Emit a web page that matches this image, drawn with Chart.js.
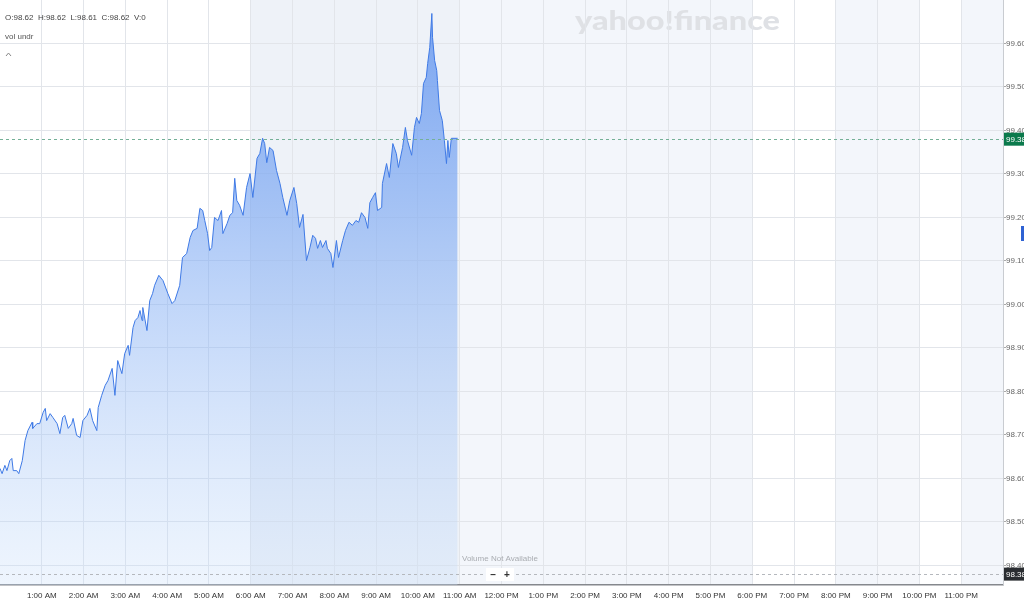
<!DOCTYPE html>
<html>
<head>
<meta charset="utf-8">
<script src="https://cdn.jsdelivr.net/npm/chart.js@4.4.1/dist/chart.umd.min.js"></script>
<style>
  html, body { margin: 0; padding: 0; background: #fff; }
  #wrap { width: 1024px; height: 606px; position: relative; }
</style>
</head>
<body>
<div id="wrap"><canvas id="priceChart"></canvas></div>
<script>
// minutes since midnight
const minutes = [0, 3, 7, 10, 14, 17, 19, 24, 27, 32, 36, 40, 46, 47, 53, 57, 62, 65, 67, 72,
    76, 82, 86, 90, 93, 98, 103, 105, 110, 115, 119, 125, 129, 133, 139, 141, 146, 151, 155, 161,
    165, 169, 175, 179, 184, 186, 191, 194, 198, 201, 204, 205, 211, 215, 219, 222, 228, 234, 241, 247,
    251, 258, 262, 268, 273, 277, 283, 287, 291, 294, 298, 301, 304, 308, 313, 318, 320, 326, 330, 334,
    337, 340, 344, 349, 354, 359, 363, 369, 373, 377, 380, 383, 387, 392, 397, 402, 406, 412, 416, 422,
    426, 430, 435, 440, 445, 449, 453, 456, 460, 463, 468, 470, 475, 478, 483, 486, 492, 496, 501, 506,
    511, 515, 519, 524, 528, 531, 535, 539, 542, 548, 549, 555, 559, 564, 569, 572, 578, 582, 585, 591,
    595, 598, 602, 605, 608, 612, 614, 617, 620, 621, 624, 627, 628, 631, 635, 638, 641, 643, 645, 648, 657];

const prices = [98.623, 98.611, 98.630, 98.618, 98.641, 98.646, 98.618, 98.618, 98.611, 98.641,
    98.687, 98.710, 98.729, 98.715, 98.726, 98.726, 98.752, 98.761, 98.733, 98.749,
    98.740, 98.726, 98.703, 98.740, 98.745, 98.715, 98.726, 98.738, 98.699, 98.694,
    98.733, 98.745, 98.761, 98.733, 98.710, 98.763, 98.791, 98.814, 98.825, 98.853,
    98.791, 98.871, 98.841, 98.887, 98.906, 98.883, 98.947, 98.963, 98.970, 98.986,
    98.963, 98.993, 98.940, 99.009, 99.025, 99.044, 99.067, 99.055, 99.025, 99.002,
    99.009, 99.044, 99.108, 99.117, 99.154, 99.170, 99.175, 99.221, 99.216, 99.193,
    99.163, 99.124, 99.131, 99.200, 99.193, 99.216, 99.163, 99.186, 99.205, 99.211,
    99.290, 99.239, 99.228, 99.205, 99.269, 99.301, 99.246, 99.336, 99.347, 99.382,
    99.370, 99.326, 99.361, 99.354, 99.308, 99.278, 99.246, 99.205, 99.239, 99.269,
    99.232, 99.177, 99.207, 99.101, 99.131, 99.159, 99.152, 99.129, 99.147, 99.131,
    99.147, 99.129, 99.117, 99.085, 99.147, 99.108, 99.147, 99.170, 99.189, 99.182,
    99.193, 99.189, 99.211, 99.200, 99.175, 99.234, 99.246, 99.257, 99.216, 99.223,
    99.278, 99.324, 99.292, 99.370, 99.347, 99.315, 99.361, 99.407, 99.377, 99.343,
    99.407, 99.430, 99.416, 99.439, 99.508, 99.522, 99.554, 99.591, 99.669, 99.614,
    99.561, 99.538, 99.515, 99.446, 99.423, 99.377, 99.324, 99.377, 99.338, 99.382, 99.382];

const yTicks = [99.6, 99.5, 99.4, 99.3, 99.2, 99.1, 99.0, 98.9, 98.8, 98.7, 98.6, 98.5, 98.4];
const hourLabels = ["1:00 AM", "2:00 AM", "3:00 AM", "4:00 AM", "5:00 AM", "6:00 AM", "7:00 AM",
    "8:00 AM", "9:00 AM", "10:00 AM", "11:00 AM", "12:00 PM", "1:00 PM", "2:00 PM", "3:00 PM",
    "4:00 PM", "5:00 PM", "6:00 PM", "7:00 PM", "8:00 PM", "9:00 PM", "10:00 PM", "11:00 PM"];

const headerText = "O:98.62  H:98.62  L:98.61  C:98.62  V:0";
const lastPrice = 99.38;
const lowPrice = 98.38;

const FONT = "'Liberation Sans', Arial, sans-serif";

// background shading, overlays and labels around the plot
const decor = {
    id: "decor",
    beforeDraw(chart) {
        const { ctx, chartArea: a, scales } = chart;
        const x = scales.x;
        ctx.save();
        ctx.fillStyle = "#ffffff";
        ctx.fillRect(0, 0, chart.width, chart.height);
        const bands = [
            [360, 660, "#eef2f8"],
            [660, 1080, "#f3f6fb"],
            [1200, 1260, "#f3f6fb"],
            [1260, 1320, "#f5f7fb"],
            [1380, 1440, "#f3f6fb"],
        ];
        bands.forEach(([s, e, c]) => {
            ctx.fillStyle = c;
            const x0 = x.getPixelForValue(s);
            const x1 = x.getPixelForValue(e);
            ctx.fillRect(x0, a.top, x1 - x0, a.bottom - a.top);
        });
        // watermark
        ctx.font = "900 27px Lato, " + FONT;
        ctx.fillStyle = "#dfe1e5";
        ctx.textBaseline = "alphabetic";
        const w = ctx.measureText("yahoo!finance").width;
        ctx.translate(575, 30);
        ctx.scale(205 / w, 1);
        ctx.fillText("yahoo!finance", 0, 0);
        ctx.restore();
    },
    afterDatasetsDraw(chart) {
        const { ctx, chartArea: a, scales } = chart;
        const y = scales.y;
        ctx.save();
        ctx.setLineDash([3, 3]);
        ctx.lineWidth = 1;
        ctx.strokeStyle = "#74b097";
        let py = Math.round(y.getPixelForValue(lastPrice)) + 0.5;
        ctx.beginPath(); ctx.moveTo(a.left, py); ctx.lineTo(a.right, py); ctx.stroke();
        ctx.strokeStyle = "#b5b8bd";
        py = Math.round(y.getPixelForValue(lowPrice)) + 0.5;
        ctx.beginPath(); ctx.moveTo(a.left, py); ctx.lineTo(a.right, py); ctx.stroke();
        ctx.restore();
    },
    afterDraw(chart) {
        const { ctx, chartArea: a, scales } = chart;
        const y = scales.y;
        ctx.save();
        ctx.textBaseline = "middle";
        ctx.textAlign = "left";
        // header
        ctx.font = "8px " + FONT;
        ctx.fillStyle = "#444";
        ctx.fillText(headerText, 5, 18);
        ctx.fillStyle = "#555";
        ctx.fillText("vol undr", 5, 37);
        ctx.strokeStyle = "#888";
        ctx.lineWidth = 1;
        ctx.beginPath(); ctx.moveTo(6, 56); ctx.lineTo(8.5, 53); ctx.lineTo(11, 56); ctx.stroke();

        // volume placeholder
        ctx.fillStyle = "#a9acb1";
        ctx.fillText("Volume Not Available", 462, 559);
        ctx.fillStyle = "#ffffff";
        ctx.fillRect(486, 568, 28, 13);
        ctx.fillStyle = "#333";
        ctx.font = "bold 10px " + FONT;
        ctx.textAlign = "center";
        ctx.fillText("\u2013", 493, 575);
        ctx.fillText("+", 507, 575);

        // price boxes on the axis
        ctx.font = "8px " + FONT;
        ctx.textAlign = "left";
        const boxes = [[lastPrice, "#0b7a4c"], [lowPrice, "#2a2d31"]];
        boxes.forEach(([v, c]) => {
            const py = y.getPixelForValue(v);
            ctx.fillStyle = c;
            ctx.fillRect(a.right + 1, py - 6.5, 30, 13);
            ctx.fillStyle = "#ffffff";
            ctx.fillText(v.toFixed(2), a.right + 3, py + 0.5);
        });
        // small marker on the right edge
        ctx.fillStyle = "#2f62d3";
        ctx.fillRect(1021, 226, 3, 15);
        ctx.restore();
    },
};

const canvas = document.getElementById("priceChart");
const c2d = canvas.getContext("2d");

function noPadding(scale) {
    scale.paddingTop = 0;
    scale.paddingBottom = 0;
    scale.paddingLeft = 0;
    scale.paddingRight = 0;
}

new Chart(canvas, {
    type: "line",
    data: {
        datasets: [
            {
                data: minutes.map((m, i) => ({ x: m, y: prices[i] })),
                borderColor: "#3f7ae6",
                borderWidth: 1,
                pointRadius: 0,
                tension: 0,
                fill: "start",
                backgroundColor: function (context) {
                    const area = context.chart.chartArea;
                    if (!area) return "rgba(120,165,240,0.5)";
                    const g = c2d.createLinearGradient(0, area.top, 0, area.bottom);
                    g.addColorStop(0, "rgba(88,142,238,0.8)");
                    g.addColorStop(0.35, "rgba(118,164,242,0.62)");
                    g.addColorStop(1, "rgba(200,222,250,0.3)");
                    return g;
                },
            },
        ],
    },
    options: {
        responsive: true,
        maintainAspectRatio: false,
        animation: false,
        layout: { padding: 0 },
        plugins: {
            legend: { display: false },
            tooltip: { enabled: false },
        },
        scales: {
            x: {
                type: "linear",
                min: 0,
                max: 1440,
                afterBuildTicks: (scale) => {
                    scale.ticks = hourLabels.map((_, i) => ({ value: (i + 1) * 60 }));
                },
                afterFit: (scale) => {
                    scale.height = 21;
                    noPadding(scale);
                },
                ticks: {
                    autoSkip: false,
                    maxRotation: 0,
                    padding: 6,
                    color: "#333",
                    font: { family: FONT, size: 8 },
                    callback: (value) => hourLabels[value / 60 - 1],
                },
                grid: { color: "#e2e5ea", drawTicks: false },
                border: { color: "#85888d", width: 1.5 },
            },
            y: {
                position: "right",
                min: 98.355,
                max: 99.7,
                afterBuildTicks: (scale) => {
                    scale.ticks = yTicks.map((v) => ({ value: v }));
                },
                afterFit: (scale) => {
                    scale.width = 21;
                    noPadding(scale);
                },
                ticks: {
                    padding: 0,
                    color: "#666",
                    font: { family: FONT, size: 8 },
                    callback: (value) => value.toFixed(2),
                },
                grid: { color: "#e2e5ea", tickLength: 3, tickColor: "#aaa" },
                border: { color: "#c9ccd1", width: 1 },
            },
        },
    },
    plugins: [decor],
});
</script>
</body>
</html>
